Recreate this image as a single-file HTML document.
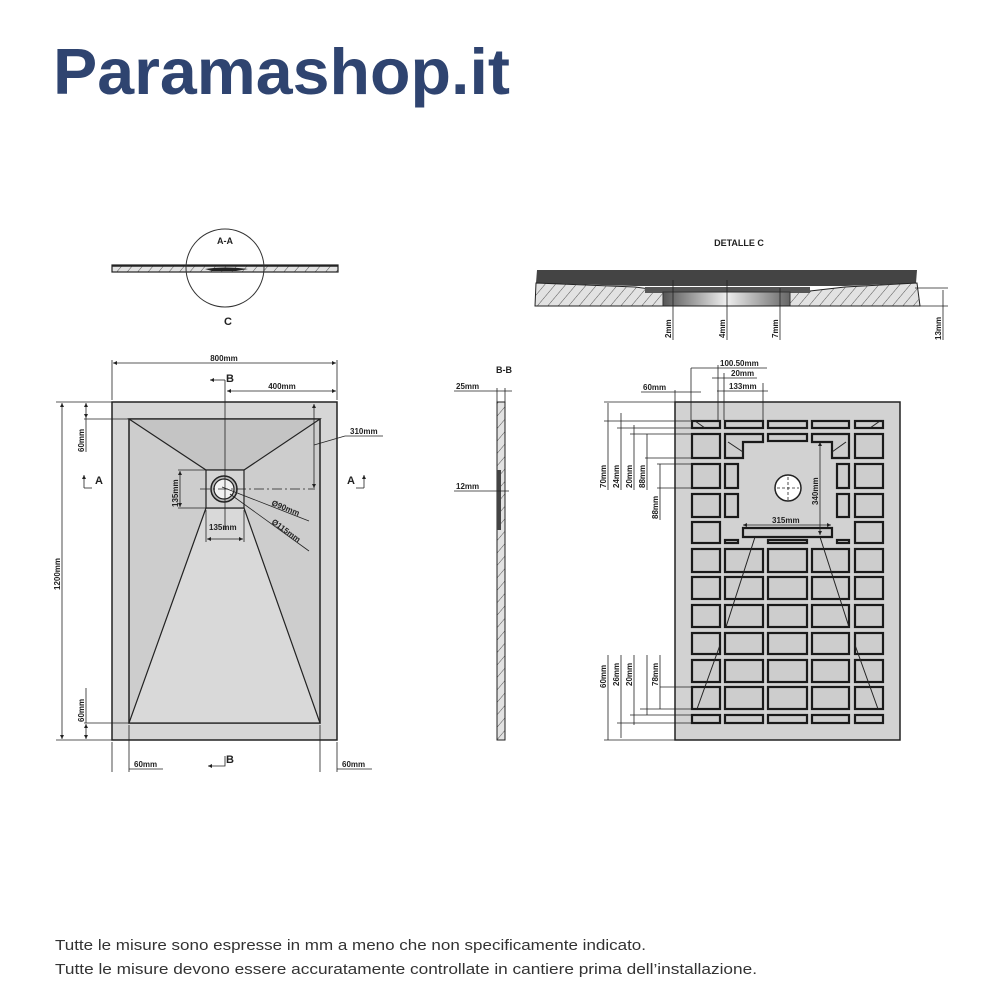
<!DOCTYPE html>
<html><head><meta charset="utf-8"><style>
html,body{margin:0;padding:0;background:#fff;width:1000px;height:1000px;overflow:hidden}
svg{display:block}
text{font-family:"Liberation Sans",sans-serif}
</style></head><body>
<svg width="1000" height="1000" viewBox="0 0 1000 1000" xmlns="http://www.w3.org/2000/svg">
<defs>
<pattern id="h" width="8" height="8" patternUnits="userSpaceOnUse" patternTransform="rotate(40)">
<rect width="8" height="8" fill="#e2e2e2"/><line x1="0" y1="0" x2="0" y2="8" stroke="#555" stroke-width="1"/></pattern>
<marker id="a" viewBox="0 0 6 6" refX="6" refY="3" markerWidth="5" markerHeight="5" orient="auto-start-reverse"><path d="M0,0L6,3L0,6z" fill="#222"/></marker>
<linearGradient id="g" x1="0" x2="1"><stop offset="0" stop-color="#555"/><stop offset=".5" stop-color="#eee"/><stop offset="1" stop-color="#666"/></linearGradient>
</defs>
<text x="53" y="94" font-size="65" font-weight="bold" fill="#2f4470" textLength="457" lengthAdjust="spacingAndGlyphs">Paramashop.it</text>

<!-- A-A section -->
<rect x="112" y="265" width="226" height="7" fill="url(#h)" stroke="#222" stroke-width="1.2"/>
<path d="M205,269 Q225,266 248,269 L236,271 L212,271z" fill="#222"/>
<line x1="112" y1="266" x2="338" y2="266" stroke="#222" stroke-width="1.5"/>
<circle cx="225" cy="268" r="39" fill="none" stroke="#333" stroke-width="1"/>
<text x="225" y="244" font-size="9" font-weight="bold" text-anchor="middle" fill="#222">A-A</text>
<text x="228" y="325" font-size="11" font-weight="bold" text-anchor="middle" fill="#222">C</text>

<!-- Detalle C -->
<text x="739" y="246" font-size="9" font-weight="bold" text-anchor="middle" fill="#222">DETALLE   C</text>
<path d="M537,270 L917,270 L916,283 L845,286 L635,286 L536,283z" fill="#444"/>
<path d="M536,283 L635,287 L665,291 L665,306 L535,306z" fill="url(#h)" stroke="#222" stroke-width="1"/>
<path d="M917,283 L845,287 L810,291 L790,291 L790,306 L920,306z" fill="url(#h)" stroke="#222" stroke-width="1"/>
<rect x="645" y="287" width="165" height="6" fill="#555"/>
<rect x="663" y="292" width="127" height="14" fill="url(#g)" stroke="#333" stroke-width="1"/>
<line x1="535" y1="306" x2="920" y2="306" stroke="#222" stroke-width="1"/>
<g stroke="#222" stroke-width="0.8">
<line x1="673" y1="280" x2="673" y2="340"/><line x1="727" y1="280" x2="727" y2="340"/><line x1="780" y1="288" x2="780" y2="340"/>
<line x1="915" y1="288" x2="948" y2="288"/><line x1="915" y1="306" x2="948" y2="306"/><line x1="943" y1="290" x2="943" y2="340"/>
</g>
<g font-size="8" font-weight="bold" fill="#222">
<text transform="translate(671,338) rotate(-90)">2mm</text>
<text transform="translate(725,338) rotate(-90)">4mm</text>
<text transform="translate(778,338) rotate(-90)">7mm</text>
<text transform="translate(941,340) rotate(-90)">13mm</text>
</g>

<!-- Main plan -->
<rect x="112" y="402" width="225" height="338" fill="#d6d6d6" stroke="#222" stroke-width="1.5"/>
<rect x="129" y="419" width="191" height="304" fill="#cdcdcd" stroke="#222" stroke-width="1.5"/>
<path d="M129,419 L320,419 L244,470 L206,470z" fill="#c4c4c4" stroke="#222" stroke-width="1.2"/>
<path d="M206,508 L244,508 L320,723 L129,723z" fill="#d9d9d9" stroke="#222" stroke-width="1.2"/>
<rect x="206" y="470" width="38" height="38" fill="#d4d4d4" stroke="#222" stroke-width="1.2"/>
<circle cx="224" cy="489" r="13" fill="#bbb" stroke="#222" stroke-width="1.5"/>
<circle cx="224" cy="489" r="10" fill="#f2f2f2" stroke="#222" stroke-width="1.2"/>
<g stroke="#222" stroke-width="0.8" fill="none">
<line x1="112" y1="360" x2="112" y2="400"/><line x1="337" y1="360" x2="337" y2="400"/>
<line x1="113" y1="363" x2="336" y2="363" marker-start="url(#a)" marker-end="url(#a)"/>
<line x1="225" y1="380" x2="225" y2="530"/>
<line x1="227" y1="391" x2="336" y2="391" marker-start="url(#a)" marker-end="url(#a)"/>
<path d="M218,380 H225"/><path d="M218,380 l-8,0" marker-end="url(#a)"/>
<line x1="200" y1="489" x2="315" y2="489" stroke-dasharray="10,3,2,3"/>
<line x1="314" y1="404" x2="314" y2="488" marker-start="url(#a)" marker-end="url(#a)"/>
<line x1="314" y1="445" x2="345" y2="436"/><line x1="345" y1="436" x2="383" y2="436"/>
<line x1="222" y1="487" x2="309" y2="521"/><line x1="230" y1="494" x2="309" y2="551"/>
<line x1="178" y1="470" x2="206" y2="470"/><line x1="178" y1="508" x2="206" y2="508"/>
<line x1="180" y1="471" x2="180" y2="507" marker-start="url(#a)" marker-end="url(#a)"/>
<line x1="206" y1="510" x2="206" y2="542"/><line x1="244" y1="510" x2="244" y2="542"/>
<line x1="207" y1="539" x2="243" y2="539" marker-start="url(#a)" marker-end="url(#a)"/>
<line x1="56" y1="402" x2="112" y2="402"/><line x1="56" y1="740" x2="112" y2="740"/>
<line x1="62" y1="403" x2="62" y2="739" marker-start="url(#a)" marker-end="url(#a)"/>
<line x1="84" y1="419" x2="129" y2="419"/><line x1="84" y1="723" x2="129" y2="723"/>
<line x1="86" y1="403" x2="86" y2="418" marker-start="url(#a)" marker-end="url(#a)"/>
<line x1="86" y1="724" x2="86" y2="739" marker-start="url(#a)" marker-end="url(#a)"/>
<line x1="86" y1="418" x2="86" y2="452"/><line x1="86" y1="688" x2="86" y2="723"/>
<line x1="112" y1="742" x2="112" y2="772"/><line x1="129" y1="725" x2="129" y2="772"/>
<line x1="320" y1="725" x2="320" y2="772"/><line x1="337" y1="742" x2="337" y2="772"/>
<line x1="129" y1="769" x2="163" y2="769"/><line x1="337" y1="769" x2="372" y2="769"/>
<path d="M84,488 V475" marker-end="url(#a)"/><path d="M84,488 H92"/>
<path d="M364,488 V475" marker-end="url(#a)"/><path d="M364,488 H356"/>
<path d="M225,756 V766 H208" marker-end="url(#a)"/>
</g>
<g font-size="8" font-weight="bold" fill="#222">
<text x="224" y="361" text-anchor="middle">800mm</text>
<text x="282" y="389" text-anchor="middle">400mm</text>
<text x="350" y="434">310mm</text>
<text x="209" y="530">135mm</text>
<text x="134" y="767">60mm</text>
<text x="342" y="767">60mm</text>
<text transform="translate(178,507) rotate(-90)">135mm</text>
<text transform="translate(60,590) rotate(-90)">1200mm</text>
<text transform="translate(84,452) rotate(-90)">60mm</text>
<text transform="translate(84,722) rotate(-90)">60mm</text>
<text transform="translate(271,505) rotate(22)">Ø90mm</text>
<text transform="translate(271,523) rotate(36)">Ø115mm</text>
</g>
<g font-size="11" font-weight="bold" fill="#222">
<text x="226" y="382">B</text><text x="226" y="763">B</text>
<text x="95" y="484">A</text><text x="347" y="484">A</text>
</g>

<!-- B-B -->
<text x="504" y="373" font-size="9" font-weight="bold" text-anchor="middle" fill="#222">B-B</text>
<rect x="497" y="402" width="8" height="338" fill="url(#h)" stroke="#222" stroke-width="1"/>
<rect x="497" y="470" width="4" height="60" fill="#444"/>
<g stroke="#222" stroke-width="0.8">
<line x1="497" y1="388" x2="497" y2="402"/><line x1="505" y1="388" x2="505" y2="402"/>
<line x1="454" y1="391" x2="512" y2="391"/><line x1="454" y1="491" x2="509" y2="491"/>
</g>
<g font-size="8" font-weight="bold" fill="#222"><text x="456" y="389">25mm</text><text x="456" y="489">12mm</text></g>

<!-- Grid -->
<rect x="675" y="402" width="225" height="338" fill="#d2d2d2" stroke="#222" stroke-width="1.5"/>
<g fill="#cdcdcd" stroke="#1a1a1a" stroke-width="2.2">
<rect x="692" y="421" width="28" height="7"/><rect x="725" y="421" width="38" height="7"/><rect x="768" y="421" width="39" height="7"/><rect x="812" y="421" width="37" height="7"/><rect x="855" y="421" width="28" height="7"/>
<rect x="692" y="715" width="28" height="8"/><rect x="725" y="715" width="38" height="8"/><rect x="768" y="715" width="39" height="8"/><rect x="812" y="715" width="37" height="8"/><rect x="855" y="715" width="28" height="8"/>
<rect x="692" y="434" width="28" height="24"/><rect x="692" y="464" width="28" height="24"/><rect x="692" y="494" width="28" height="23"/><rect x="692" y="522" width="28" height="21"/><rect x="692" y="549" width="28" height="23"/><rect x="692" y="577" width="28" height="22"/><rect x="692" y="605" width="28" height="22"/><rect x="692" y="633" width="28" height="21"/><rect x="692" y="660" width="28" height="22"/><rect x="692" y="687" width="28" height="22"/>
<rect x="855" y="434" width="28" height="24"/><rect x="855" y="464" width="28" height="24"/><rect x="855" y="494" width="28" height="23"/><rect x="855" y="522" width="28" height="21"/><rect x="855" y="549" width="28" height="23"/><rect x="855" y="577" width="28" height="22"/><rect x="855" y="605" width="28" height="22"/><rect x="855" y="633" width="28" height="21"/><rect x="855" y="660" width="28" height="22"/><rect x="855" y="687" width="28" height="22"/>
<rect x="725" y="464" width="13" height="24"/><rect x="725" y="494" width="13" height="23"/>
<rect x="837" y="464" width="12" height="24"/><rect x="837" y="494" width="12" height="23"/>
<rect x="768" y="434" width="39" height="7"/>
<rect x="725" y="540" width="13" height="3"/><rect x="768" y="540" width="39" height="3"/><rect x="837" y="540" width="12" height="3"/>
<rect x="725" y="549" width="38" height="23"/><rect x="768" y="549" width="39" height="23"/><rect x="812" y="549" width="37" height="23"/>
<rect x="725" y="577" width="38" height="22"/><rect x="768" y="577" width="39" height="22"/><rect x="812" y="577" width="37" height="22"/>
<rect x="725" y="605" width="38" height="22"/><rect x="768" y="605" width="39" height="22"/><rect x="812" y="605" width="37" height="22"/>
<rect x="725" y="633" width="38" height="21"/><rect x="768" y="633" width="39" height="21"/><rect x="812" y="633" width="37" height="21"/>
<rect x="725" y="660" width="38" height="22"/><rect x="768" y="660" width="39" height="22"/><rect x="812" y="660" width="37" height="22"/>
<rect x="725" y="687" width="38" height="22"/><rect x="768" y="687" width="39" height="22"/><rect x="812" y="687" width="37" height="22"/>
<path d="M725,434 H763 V442 H743 V458 H725z"/>
<path d="M812,434 H849 V458 H832 V442 H812z"/>
<path d="M743,528 H832 V537 H743z"/>
</g>
<g stroke="#222" stroke-width="1" fill="none">
<line x1="728" y1="442" x2="743" y2="452"/><line x1="846" y1="442" x2="832" y2="452"/>
<line x1="755" y1="537" x2="726" y2="627"/><line x1="820" y1="537" x2="849" y2="627"/>
<line x1="720" y1="645" x2="697" y2="709"/><line x1="855" y1="645" x2="878" y2="709"/>
<line x1="695" y1="421" x2="705" y2="428"/><line x1="880" y1="421" x2="870" y2="428"/>
</g>
<circle cx="788" cy="488" r="13" fill="#fff" stroke="#222" stroke-width="1.5"/>
<g stroke="#222" stroke-width="0.8" stroke-dasharray="3,2"><line x1="788" y1="477" x2="788" y2="500"/><line x1="777" y1="488" x2="799" y2="488"/></g>
<g stroke="#222" stroke-width="0.8" fill="none">
<line x1="820" y1="442" x2="820" y2="535" marker-start="url(#a)" marker-end="url(#a)"/>
<line x1="743" y1="525" x2="831" y2="525" marker-start="url(#a)" marker-end="url(#a)"/>
<line x1="691" y1="368" x2="691" y2="420"/><line x1="718" y1="365" x2="718" y2="420"/><line x1="724" y1="373" x2="724" y2="420"/><line x1="763" y1="383" x2="763" y2="420"/>
<line x1="691" y1="368" x2="767" y2="368"/><line x1="712" y1="378" x2="757" y2="378"/><line x1="717" y1="391" x2="768" y2="391"/>
<line x1="675" y1="390" x2="675" y2="402"/><line x1="641" y1="392" x2="701" y2="392"/>
<line x1="604" y1="402" x2="675" y2="402"/><line x1="604" y1="421" x2="692" y2="421"/><line x1="617" y1="428" x2="692" y2="428"/><line x1="630" y1="434" x2="692" y2="434"/><line x1="645" y1="458" x2="692" y2="458"/><line x1="657" y1="464" x2="692" y2="464"/><line x1="657" y1="488" x2="692" y2="488"/>
<line x1="608" y1="403" x2="608" y2="490"/><line x1="621" y1="413" x2="621" y2="490"/><line x1="634" y1="425" x2="634" y2="490"/><line x1="647" y1="434" x2="647" y2="490"/><line x1="660" y1="464" x2="660" y2="520"/>
<line x1="604" y1="740" x2="675" y2="740"/><line x1="617" y1="723" x2="692" y2="723"/><line x1="630" y1="715" x2="692" y2="715"/><line x1="640" y1="709" x2="692" y2="709"/><line x1="660" y1="687" x2="692" y2="687"/>
<line x1="608" y1="655" x2="608" y2="740"/><line x1="621" y1="655" x2="621" y2="738"/><line x1="634" y1="655" x2="634" y2="725"/><line x1="647" y1="655" x2="647" y2="715"/><line x1="660" y1="655" x2="660" y2="709"/>
</g>
<g font-size="8" font-weight="bold" fill="#222">
<text x="720" y="366">100.50mm</text><text x="731" y="376">20mm</text><text x="729" y="389">133mm</text><text x="643" y="390">60mm</text>
<text transform="translate(606,488) rotate(-90)">70mm</text><text transform="translate(619,488) rotate(-90)">24mm</text><text transform="translate(632,488) rotate(-90)">20mm</text><text transform="translate(645,488) rotate(-90)">88mm</text><text transform="translate(658,519) rotate(-90)">88mm</text>
<text transform="translate(606,688) rotate(-90)">60mm</text><text transform="translate(619,686) rotate(-90)">26mm</text><text transform="translate(632,686) rotate(-90)">20mm</text><text transform="translate(658,686) rotate(-90)">78mm</text>
<text transform="translate(818,505) rotate(-90)">340mm</text><text x="772" y="523">315mm</text>
</g>

<g font-size="15" fill="#333">
<text x="55" y="950" textLength="591" lengthAdjust="spacingAndGlyphs">Tutte le misure sono espresse in mm a meno che non specificamente indicato.</text>
<text x="55" y="974" textLength="702" lengthAdjust="spacingAndGlyphs">Tutte le misure devono essere accuratamente controllate in cantiere prima dell’installazione.</text>
</g>
</svg>
</body></html>
